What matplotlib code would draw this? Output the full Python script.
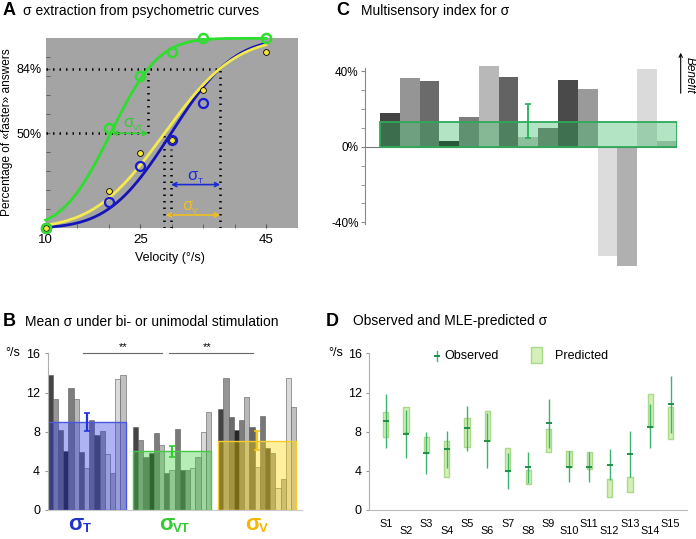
import math
import numpy as np
import matplotlib
matplotlib.use('Agg')
import matplotlib.pyplot as plt
from matplotlib.colors import to_rgba

plt.rcParams['font.family'] = ['Liberation Sans', 'DejaVu Sans']

# --- A: psychometric data (% of "faster" answers) ---
vel_vt = [10, 20, 25, 30, 35, 45]
resp_vt = [0, 53, 80, 93, 100, 100]
vel_t = [10, 20, 25, 30, 35]
resp_t = [0, 13.6, 33, 46.5, 66]
vel_v = [10, 20, 25, 30, 35, 45]
resp_v = [0, 19.7, 39.6, 46.6, 73, 93]
# cumulative gaussian fits (mu, sigma)
fit_vt = (20.3, 6.0)
fit_t = (29.9, 7.8)
fit_v = (28.85, 8.85)

# --- B: individual sigma (deg/s) per condition ---
sigma_t = [13.8, 11.3, 8.2, 6.0, 12.5, 11.3, 5.9, 4.3, 9.2, 7.7, 8.1, 5.7, 3.8, 13.4, 13.8]
sigma_vt = [8.5, 7.2, 5.4, 5.85, 7.85, 6.6, 3.8, 4.1, 8.3, 4.1, 4.1, 4.3, 5.4, 8.0, 10.0]
sigma_v = [10.3, 13.5, 9.5, 8.2, 9.2, 11.5, 8.5, 4.4, 9.6, 6.3, 5.85, 2.2, 3.2, 13.5, 10.5]
group_means = [9.0, 6.0, 7.1]
group_sem = [0.9, 0.58, 0.93]

# --- C: multisensory index (%) ---
subjects = ['S%d' % i for i in range(1, 16)]
msi = [17.6, 36.3, 34.6, 3.2, 15.5, 42.5, 36.8, 4.9, 10.0, 35.1, 30.7, -57.9, -63.0, 41.3, 3.2]
msi_mean = 13.2
msi_lo, msi_hi = 4.4, 22.8

# --- D: observed vs MLE predicted sigma ---
obs_mid = [9.09, 7.76, 5.86, 6.2, 8.34, 7.05, 4.0, 4.36, 8.86, 4.36, 4.36, 4.6, 5.72, 8.5, 10.8]
obs_lo = [6.3, 5.28, 3.64, 4.32, 6.06, 4.26, 2.11, 2.8, 6.3, 2.89, 2.89, 3.1, 3.4, 6.3, 7.9]
obs_hi = [11.9, 10.2, 8.0, 8.07, 10.66, 9.9, 5.86, 5.96, 11.3, 6.0, 5.96, 6.23, 8.07, 10.8, 13.7]
pred_lo = [7.5, 8.0, 5.86, 3.34, 6.47, 7.08, 3.95, 2.62, 5.96, 4.36, 4.19, 1.3, 1.87, 8.45, 7.3]
pred_hi = [10.04, 10.49, 7.42, 7.05, 9.36, 10.14, 6.37, 4.06, 8.24, 6.06, 5.96, 3.13, 3.4, 11.9, 10.49]

# one grey per subject
greys = ['#444444', '#959595', '#6b6b6b', '#262626', '#7d7d7d', '#b8b8b8', '#636363', '#c4c4c4',
         '#787878', '#4a4a4a', '#9a9a9a', '#dcdcdc', '#b0b0b0', '#dadada', '#c0c0c0']

W, H = 696, 539
fig = plt.figure(figsize=(W / 100, H / 100), dpi=100)


def px_box(l, t, r, b):
    return [l / W, 1 - b / H, (r - l) / W, (b - t) / H]


def title(x_letter, x_text, y, letter, text):
    fig.text(x_letter / W, 1 - y / H, letter, fontsize=13, fontweight='bold', va='baseline')
    fig.text(x_text / W, 1 - y / H, text, fontsize=10, va='baseline')


def sigma_label(ax, x, y, sub, color, size, subsize, dx, dy, bold=False, transform=None):
    transform = transform or ax.transData
    w = 'bold' if bold else 'normal'
    ax.text(x, y, 'σ', color=color, fontsize=size, fontweight=w, ha='left', va='baseline',
            transform=transform, clip_on=False)
    ax.annotate(sub, xy=(x, y), xycoords=transform, xytext=(dx, dy), textcoords='offset points',
                color=color, fontsize=subsize, fontweight=w, ha='left', va='baseline',
                annotation_clip=False)


def cum_gauss(x, mu, sd):
    return np.array([50 * (1 + math.erf((v - mu) / (sd * math.sqrt(2)))) for v in x])


# ================= A =================
title(3, 23, 15, 'A', 'σ extraction from psychometric curves')
axA = fig.add_axes(px_box(45.7, 38.3, 297.7, 228.3))
axA.set_facecolor('#a4a4a4')
for s in axA.spines.values():
    s.set_visible(False)
axA.set_xlim(10, 50)
axA.set_ylim(0, 100)

c_green, c_blue, c_yel = '#2ede2e', '#1414b4', '#f4ea4c'

dot = dict(color='black', lw=1.8, ls=(0, (0.6, 2.0)), zorder=2)
x84 = fit_t[0] + fit_t[1]
axA.plot([10, x84], [84, 84], **dot)
axA.plot([10, fit_vt[0] + fit_vt[1]], [50, 50], **dot)
axA.plot([fit_vt[0] + fit_vt[1]] * 2, [50, 84], **dot)
axA.plot([fit_v[0]] * 2, [0, 50], **dot)
axA.plot([fit_t[0]] * 2, [0, 42], **dot)
axA.plot([x84] * 2, [0, 84], **dot)

xs = np.linspace(10, 45, 200)
axA.plot(xs, cum_gauss(xs, *fit_t), color=c_blue, lw=2, zorder=3, clip_on=False)
axA.plot(xs, cum_gauss(xs, *fit_v), color=c_yel, lw=2, zorder=3, clip_on=False)
axA.plot(xs, cum_gauss(xs, *fit_vt), color=c_green, lw=2, zorder=3, clip_on=False)

axA.plot(vel_v, resp_v, 'o', ms=4.2, mfc='#f5e63a', mec='black', mew=0.6, zorder=4, clip_on=False)
axA.plot(vel_t, resp_t, 'o', ms=6.5, mfc='none', mec='#1a1ad2', mew=1.6, zorder=5, clip_on=False)
axA.plot(vel_vt, resp_vt, 'o', ms=6.5, mfc='none', mec=c_green, mew=1.8, zorder=6, clip_on=False)

arr = dict(arrowstyle='<->', lw=1.2, shrinkA=0, shrinkB=0, mutation_scale=7)
axA.annotate('', xy=(fit_vt[0] + 0.2, 50), xytext=(fit_vt[0] + fit_vt[1], 50),
             arrowprops=dict(arr, color='#33cc33'), zorder=5)
axA.annotate('', xy=(fit_t[0], 23), xytext=(x84, 23), arrowprops=dict(arr, color='#1a2bd6'))
axA.annotate('', xy=(fit_v[0] + 0.2, 7), xytext=(x84, 7), arrowprops=dict(arr, color='#f0c020'))
sigma_label(axA, 22.3, 53.2, 'VT', '#33cc33', 12, 6, 7.4, -2.2)
sigma_label(axA, 32.5, 25.6, 'T', '#1a2bd6', 12, 6, 7.4, -2.2)
sigma_label(axA, 31.6, 9.7, 'V', '#f0c020', 12, 6, 7.4, -2.2)

axA.set_xticks([10, 25, 45])
axA.set_xticks([15, 20, 30, 35, 40], minor=True)
axA.set_yticks([50, 84])
axA.set_yticklabels(['50%', '84%'])
axA.set_yticks([10, 20, 30, 40, 60, 70, 80, 90], minor=True)
axA.tick_params(which='both', direction='in', color='#555555', length=3)
axA.tick_params(axis='x', labelsize=9.5, pad=4)
axA.tick_params(axis='y', labelsize=9, pad=3)
fig.text(170 / W, 1 - 258 / H, 'Velocity (°/s)', fontsize=9, ha='center', va='center')
fig.text(7 / W, 1 - 132 / H, 'Percentage of «faster» answers', fontsize=8.6, rotation=90,
         ha='center', va='center')

# ================= B =================
title(3, 25, 325.5, 'B', 'Mean σ under bi- or unimodal stimulation')
axB = fig.add_axes(px_box(47.7, 338.7, 301.7, 510))
axB.set_xlim(0, 48.85)
axB.set_ylim(0, 17.5)
offsets = [0, 16.4, 32.8]
fills = ['#2b3be0', '#40d040', '#ffd700']
edges = ['#4a55e0', '#45c845', '#f2cc30']
ebar_cols = ['#2233dd', '#33cc33', '#f5c518']
for g, vals in enumerate([sigma_t, sigma_vt, sigma_v]):
    xb = offsets[g] + 0.5 + np.arange(15)
    axB.bar(xb, vals, width=1, color=greys, edgecolor='#5a5a5a', linewidth=0.4, zorder=1)
    axB.bar(offsets[g] + 7.5, group_means[g], width=15, facecolor=to_rgba(fills[g], 0.38),
            edgecolor=edges[g], linewidth=1, zorder=2)
    axB.errorbar(offsets[g] + 7.5, group_means[g], yerr=group_sem[g], fmt='none',
                 ecolor=ebar_cols[g], elinewidth=1.6, capsize=2, capthick=1.2, zorder=3)

axB.plot([6.7, 22.0], [16.07, 16.07], color='#666666', lw=0.8, clip_on=False)
axB.plot([23.3, 39.5], [16.07, 16.07], color='#666666', lw=0.8, clip_on=False)
axB.text(14.5, 16.65, '**', ha='center', va='center', fontsize=8)
axB.text(30.6, 16.65, '**', ha='center', va='center', fontsize=8)

label_tr = axB.get_xaxis_transform()
sigma_label(axB, 3.96, -0.117, 'T', '#2233cc', 16, 9.5, 10.2, -1.5, bold=True, transform=label_tr)
sigma_label(axB, 21.4, -0.117, 'VT', '#33cc33', 16, 9.5, 10.2, -1.5, bold=True, transform=label_tr)
sigma_label(axB, 37.9, -0.117, 'V', '#f5b800', 16, 9.5, 10.2, -1.5, bold=True, transform=label_tr)

axB.spines['top'].set_visible(False)
axB.spines['right'].set_visible(False)
axB.spines['left'].set_color('#b0b0b0')
axB.spines['left'].set_bounds(0, 16)
axB.spines['bottom'].set_color('#c8c8c8')
axB.set_xticks([])
axB.set_yticks([0, 4, 8, 12, 16])
axB.tick_params(axis='y', length=2, color='#999999', labelsize=9, pad=3.5)
fig.text(5 / W, 1 - 353 / H, '°/s', fontsize=9, va='center')

# ================= C =================
title(336, 360.7, 15, 'C', 'Multisensory index for σ')
axC = fig.add_axes(px_box(365, 61.6, 676.7, 269.7))
axC.set_xlim(-0.26, 15.5)
axC.set_ylim(-65, 45)
xc = np.arange(1, 16)
axC.bar(xc, msi, width=1, color=greys, edgecolor='none', zorder=1)
axC.axhline(0, color='#777777', lw=0.8, zorder=1.5)
axC.bar(8, msi_mean, width=15, facecolor=to_rgba('#2eb85c', 0.36), edgecolor='#2eaa5a',
        linewidth=1.3, zorder=2)
axC.errorbar(8, msi_mean, yerr=[[msi_mean - msi_lo], [msi_hi - msi_mean]], fmt='none',
             ecolor='#22b055', elinewidth=1.3, capsize=2.5, capthick=1.2, zorder=3)
for s in ['top', 'right', 'bottom']:
    axC.spines[s].set_visible(False)
axC.spines['left'].set_color('#888888')
axC.spines['left'].set_bounds(-41, 41.5)
axC.set_xticks([])
axC.set_yticks([-40, 0, 40])
axC.set_yticklabels(['-40%', '0%', '40%'])
axC.set_yticks([-30, -20, -10, 10, 20, 30], minor=True)
axC.tick_params(axis='y', which='both', length=3, color='#888888', labelsize=8.5, pad=1.5)
fig.text(690 / W, 1 - 75 / H, 'Benefit', rotation=270, style='italic', fontsize=8.5,
         ha='center', va='center')
fig.add_artist(matplotlib.patches.FancyArrowPatch((680.7 / W, 1 - 96 / H), (680.7 / W, 1 - 50 / H),
                                                  transform=fig.transFigure, arrowstyle='->',
                                                  mutation_scale=6, lw=0.8, color='black'))

# ================= D =================
title(326, 353.3, 325.5, 'D', 'Observed and MLE-predicted σ')
axD = fig.add_axes(px_box(369.3, 338.7, 687, 510))
axD.set_xlim(0.195, 15.8)
axD.set_ylim(0, 17.5)
pos = np.arange(1, 16)
axD.bar(pos, np.array(pred_hi) - np.array(pred_lo), bottom=pred_lo, width=0.26,
        facecolor='#d4f0b8', edgecolor='#a8da88', linewidth=1, zorder=2)
axD.vlines(pos, obs_lo, obs_hi, color='#3cb46e', lw=1, zorder=3)
axD.plot(pos, obs_mid, ls='none', marker='_', ms=4, mew=1.4, color='#1f8f4a', zorder=4)

axD.plot([0.212, 0.212], [0.87, 0.928], transform=axD.transAxes, color='#3cb46e', lw=1)
axD.plot([0.212], [0.899], transform=axD.transAxes, marker='_', ms=4, mew=1.4, color='#1f8f4a')
axD.text(0.236, 0.899, 'Observed', transform=axD.transAxes, fontsize=9, va='center')
axD.add_patch(matplotlib.patches.Rectangle((0.508, 0.856), 0.037, 0.097, transform=axD.transAxes,
                                           facecolor='#d4f0b8', edgecolor='#a8da88', lw=1))
axD.text(0.585, 0.899, 'Predicted', transform=axD.transAxes, fontsize=9, va='center')

for s in ['top', 'right']:
    axD.spines[s].set_visible(False)
axD.spines['left'].set_color('#b0b0b0')
axD.spines['left'].set_bounds(0, 16)
axD.spines['bottom'].set_color('#bbbbbb')
axD.set_yticks([0, 4, 8, 12, 16])
axD.tick_params(axis='y', length=2, color='#999999', labelsize=9, pad=3.5)
axD.set_xticks(pos)
axD.set_xticklabels(subjects, fontsize=7.8)
for i, tick in enumerate(axD.xaxis.get_major_ticks()):
    tick.set_pad(6.5 if i % 2 == 0 else 11.5)
axD.tick_params(axis='x', length=0)
fig.text(328 / W, 1 - 353 / H, '°/s', fontsize=9, va='center')

fig.savefig('out.png', dpi=100)
